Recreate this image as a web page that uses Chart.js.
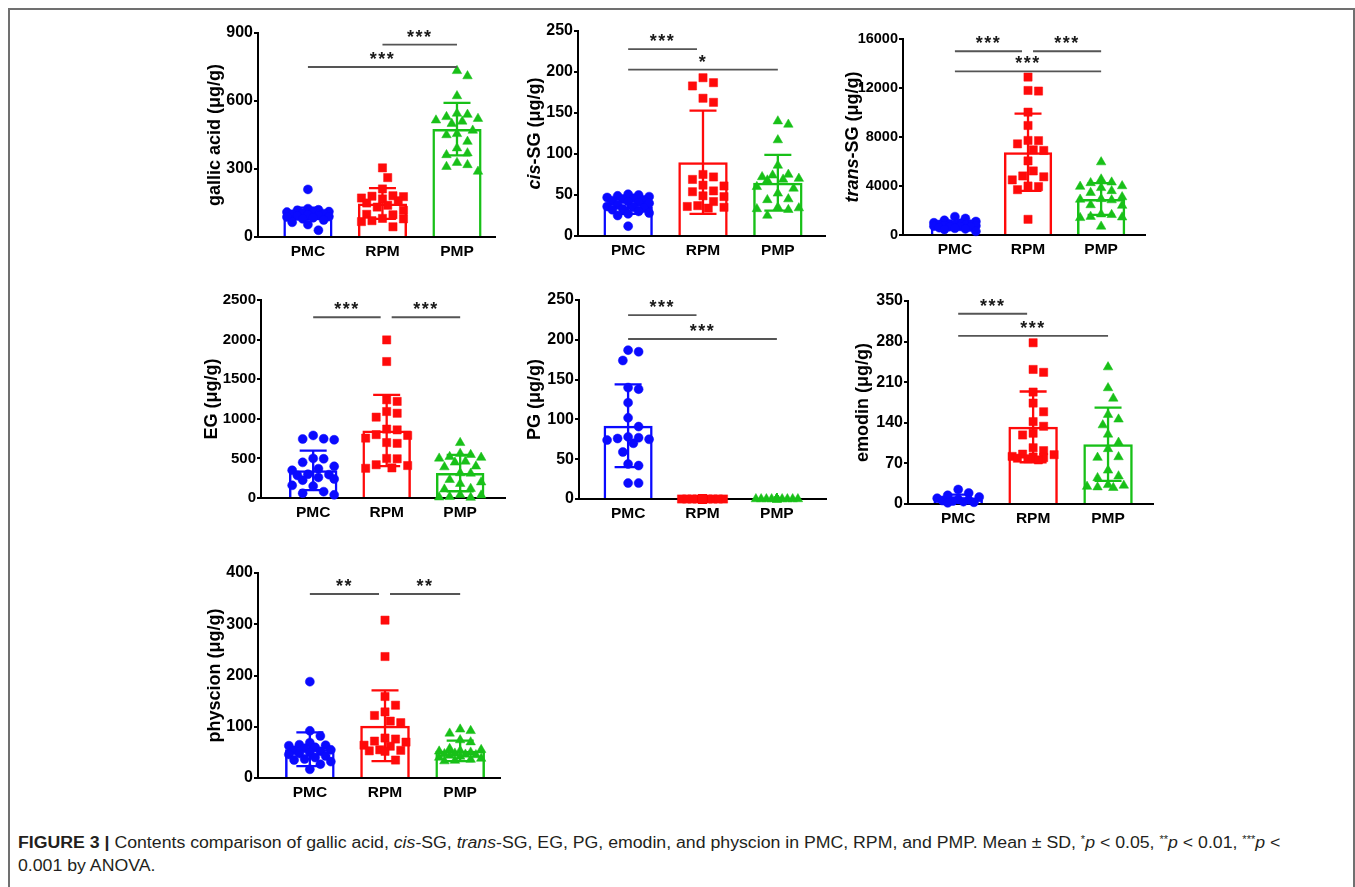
<!DOCTYPE html>
<html>
<head>
<meta charset="utf-8">
<script src="https://cdn.jsdelivr.net/npm/chart.js@4.4.1/dist/chart.umd.min.js"></script>
<style>
  body { margin: 0; background: #fff; width: 1355px; height: 887px; overflow: hidden; position: relative; font-family: 'Liberation Sans', Arial, sans-serif; }
  #frame { position: absolute; left: 8px; top: 8px; width: 1347px; height: 900px; box-sizing: border-box;
           border-left: 2px solid #707070; border-top: 2px solid #707070; border-right: 2px solid #707070; }
  .cap { position: absolute; left: 18px; white-space: nowrap; font-size: 16px; line-height: 18px; color: #231f20; transform-origin: 0 0; }
  .cap sup { font-size: 10px; vertical-align: 0; position: relative; top: -5px; }
</style>
</head>
<body>
<div id="frame"></div>
<div class="cap" id="cap1" style="top:834px"><b>FIGURE 3 |</b> Contents comparison of gallic acid, <i>cis</i>-SG, <i>trans</i>-SG, EG, PG, emodin, and physcion in PMC, RPM, and PMP. Mean ± SD, <sup>*</sup><i>p</i> &lt; 0.05, <sup>**</sup><i>p</i> &lt; 0.01, <sup>***</sup><i>p</i> &lt;</div>
<div class="cap" id="cap2" style="top:857px">0.001 by ANOVA.</div>
<script>
const categories = ['PMC', 'RPM', 'PMP'];
const groupColors = ['#0a0aff', '#ff0a0a', '#18c018'];
const groupMarkers = ['circle', 'rect', 'triangle'];
const markerRadius = [4.5, 5.8, 5.5];

// gallic acid
const gallicPMC = [210, 125, 120, 118, 112, 110, 108, 105, 103, 100, 98, 95, 93, 90, 88, 85, 80, 75, 65, 55, 30];
const gallicRPM = [305, 262, 212, 182, 180, 178, 172, 168, 160, 150, 140, 132, 118, 100, 98, 82, 80, 72, 68, 45];
const gallicPMP = [733, 710, 622, 545, 540, 530, 522, 515, 510, 500, 470, 455, 450, 421, 392, 370, 362, 328, 318, 310, 289];
const gallicMean = [105, 148, 476];
const gallicSD = [25, 68, 116];
const gallicTicks = [0, 300, 600, 900];
const gallicSig = [[1, 3, '***', 750], [2, 3, '***', 849]];

// cis-SG
const cisPMC = [51, 50, 49, 48, 47, 46, 45, 44, 43, 42, 41, 40, 38, 36, 35, 34, 33, 32, 30, 28, 27, 25, 12];
const cisRPM = [193, 187, 183, 168, 163, 75, 72, 69, 62, 61, 55, 54, 49, 48, 42, 37, 36, 35, 34];
const cisPMP = [140, 136, 117, 86, 75, 74, 72, 70, 69, 68, 60, 58, 52, 45, 44, 35, 34, 33, 32, 25];
const cisMean = [36, 90, 65];
const cisSD = [9, 63, 34];
const cisTicks = [0, 50, 100, 150, 200, 250];
const cisSig = [[1, 2, '***', 228], [1, 3, '*', 203]];

// trans-SG
const transPMC = [1500, 1350, 1200, 1100, 1000, 950, 900, 880, 850, 820, 800, 780, 750, 720, 700, 680, 650, 600, 550, 500, 450, 300];
const transRPM = [12890, 11800, 11750, 10030, 8940, 7720, 7700, 7440, 6950, 6900, 6050, 5230, 4820, 4750, 4500, 4000, 3950, 3700, 1280];
const transPMP = [5950, 4550, 4300, 4250, 4000, 3950, 3850, 3600, 3450, 3100, 2950, 2900, 2850, 2450, 2400, 1700, 1650, 1500, 1450, 1400, 700];
const transMean = [800, 6760, 2940];
const transSD = [280, 3150, 1300];
const transTicks = [0, 4000, 8000, 12000, 16000];
const transSig = [[1, 2, '***', 15000], [2, 3, '***', 15000], [1, 3, '***', 13350]];

// EG
const egPMC = [790, 748, 745, 735, 500, 495, 450, 400, 370, 350, 300, 295, 285, 260, 240, 225, 160, 150, 80, 60, 40];
const egRPM = [1996, 1723, 1240, 1220, 1092, 1070, 1021, 870, 860, 800, 790, 756, 700, 690, 500, 495, 420, 410, 380, 375];
const egPMP = [697, 560, 546, 520, 510, 500, 462, 450, 400, 390, 315, 310, 231, 200, 180, 118, 110, 40, 34, 15, 10, 5];
const egMean = [349, 853, 315];
const egSD = [250, 450, 230];
const egTicks = [0, 500, 1000, 1500, 2000, 2500];
const egSig = [[1, 2, '***', 2282], [2, 3, '***', 2282]];

// PG
const pgPMC = [187, 185, 174, 140, 138, 121, 102, 91, 78, 77, 76, 75, 74, 70, 59, 44, 42, 20, 20];
const pgRPM = [0, 0, 0, 0, 0, 0, 0, 0, 0, 0, 0, 0, 0, 0, 0, 0, 0, 0, 0, 0];
const pgPMP = [0, 0, 0, 0, 0, 0, 0, 0, 0, 0, 0, 0, 0, 0, 0, 0, 0, 0, 0, 0];
const pgMean = [92, 0, 0];
const pgSD = [52, 0, 0];
const pgTicks = [0, 50, 100, 150, 200, 250];
const pgSig = [[1, 2, '***', 231], [1, 3, '***', 201]];

// emodin
const emodinPMC = [25, 19, 15, 12, 10, 8, 7, 6, 5, 4, 3, 2];
const emodinRPM = [278, 232, 227, 193, 174, 159, 142, 134, 122, 119, 97, 92, 86, 85, 82, 81, 80, 79, 78, 76];
const emodinPMP = [236, 200, 182, 154, 146, 136, 120, 106, 95, 81, 80, 58, 48, 45, 33, 32, 30, 29, 28];
const emodinMean = [7, 133, 103];
const emodinSD = [9, 61, 63];
const emodinTicks = [0, 70, 140, 210, 280, 350];
const emodinSig = [[1, 2, '***', 328], [1, 3, '***', 290]];

// physcion
const physcionPMC = [188, 92, 82, 69, 65, 64, 63, 60, 58, 55, 54, 52, 50, 48, 46, 43, 40, 37, 35, 32, 27, 17];
const physcionRPM = [308, 237, 159, 142, 129, 122, 111, 108, 78, 76, 72, 70, 64, 62, 55, 54, 53, 52, 35];
const physcionPMP = [95, 92, 87, 74, 70, 57, 55, 53, 52, 50, 48, 47, 46, 45, 44, 42, 40, 38, 36, 34, 33];
const physcionMean = [56, 102, 53];
const physcionSD = [33, 69, 20];
const physcionTicks = [0, 100, 200, 300, 400];
const physcionSig = [[1, 2, '**', 359], [2, 3, '**', 359]];

const FONT = "'Liberation Sans', Arial, sans-serif";

// panel placement on the page (axis corner, top of y range, right end of x axis)
const panels = [
    { title: [['gallic acid (μg/g)', false]], groups: [gallicPMC, gallicRPM, gallicPMP], mean: gallicMean, sd: gallicSD, ticks: gallicTicks, sig: gallicSig,
      box: { axisX: 258, topY: 33, zeroY: 237, xEnd: 495, titleOff: 43, xMin: 0.33, xMax: 3.51, tickSize: 16 } },
    { title: [['cis', true], ['-SG (μg/g)', false]], groups: [cisPMC, cisRPM, cisPMP], mean: cisMean, sd: cisSD, ticks: cisTicks, sig: cisSig,
      box: { axisX: 578, topY: 31, zeroY: 236, xEnd: 825, titleOff: 43, xMin: 0.33, xMax: 3.63, tickSize: 16 } },
    { title: [['trans', true], ['-SG (μg/g)', false]], groups: [transPMC, transRPM, transPMP], mean: transMean, sd: transSD, ticks: transTicks, sig: transSig,
      box: { axisX: 903, topY: 39, zeroY: 235, xEnd: 1145, titleOff: 50, xMin: 0.29, xMax: 3.6, tickSize: 14.5 } },
    { title: [['EG (μg/g)', false]], groups: [egPMC, egRPM, egPMP], mean: egMean, sd: egSD, ticks: egTicks, sig: egSig,
      box: { axisX: 261, topY: 300, zeroY: 498, xEnd: 505, titleOff: 49, xMin: 0.29, xMax: 3.61, tickSize: 15 } },
    { title: [['PG (μg/g)', false]], groups: [pgPMC, pgRPM, pgPMP], mean: pgMean, sd: pgSD, ticks: pgTicks, sig: pgSig,
      box: { axisX: 579, topY: 300, zeroY: 499, xEnd: 826, titleOff: 44, xMin: 0.34, xMax: 3.66, tickSize: 16 } },
    { title: [['emodin (μg/g)', false]], groups: [emodinPMC, emodinRPM, emodinPMP], mean: emodinMean, sd: emodinSD, ticks: emodinTicks, sig: emodinSig,
      box: { axisX: 908, topY: 301, zeroY: 504, xEnd: 1153, titleOff: 45, xMin: 0.33, xMax: 3.6, tickSize: 16 } },
    { title: [['physcion (μg/g)', false]], groups: [physcionPMC, physcionRPM, physcionPMP], mean: physcionMean, sd: physcionSD, ticks: physcionTicks, sig: physcionSig,
      box: { axisX: 258, topY: 573, zeroY: 778, xEnd: 500, titleOff: 43, xMin: 0.31, xMax: 3.53, tickSize: 16 } }
];

// spread points sideways so they don't sit on top of each other (pixel offsets)
function swarm(values, pxY, d, maxHalf) {
    const placed = [];
    const offs = new Array(values.length).fill(0);
    const order = values.map((v, i) => i).sort((a, b) => values[b] - values[a]);
    const step = d / 2;
    const kMax = 2 * Math.floor(maxHalf / step);
    order.forEach(i => {
        const y = values[i] * pxY;
        let chosen = null, fallback = 0, bestGap = -1;
        for (let k = 0; k <= kMax; k++) {
            const dx = (k % 2 ? 1 : -1) * Math.ceil(k / 2) * step;
            let gap = Infinity;
            placed.forEach(p => { gap = Math.min(gap, Math.hypot(p.x - dx, p.y - y)); });
            if (gap >= d) { chosen = dx; break; }
            if (gap > bestGap) { bestGap = gap; fallback = dx; }
        }
        if (chosen === null) chosen = fallback;
        offs[i] = chosen;
        placed.push({ x: chosen, y });
    });
    return offs;
}

function makePanel(p) {
    const b = p.box;
    const yW = 62, padTop = 14, xH = 34, padRight = 8;
    const w = yW + (b.xEnd - b.axisX) + padRight;
    const h = padTop + (b.zeroY - b.topY) + xH;
    const canvas = document.createElement('canvas');
    canvas.width = w;
    canvas.height = h;
    canvas.style.cssText = `position:absolute;left:${b.axisX - yW}px;top:${b.topY - padTop}px;width:${w}px;height:${h}px`;
    document.body.appendChild(canvas);

    const yMax = p.ticks[p.ticks.length - 1];
    const pxY = (b.zeroY - b.topY) / yMax;
    const pxX = (b.xEnd - b.axisX) / (b.xMax - b.xMin);

    const datasets = [{
        type: 'bar',
        data: p.mean.map((m, i) => ({ x: i + 1, y: m })),
        backgroundColor: 'rgba(0,0,0,0)',
        borderColor: groupColors,
        borderWidth: 2.5,
        barPercentage: 1,
        categoryPercentage: 0.66,
        order: 2
    }];
    p.groups.forEach((vals, gi) => {
        const offs = swarm(vals, pxY, 10.5, 24);
        datasets.push({
            type: 'scatter',
            data: vals.map((v, k) => ({ x: gi + 1 + offs[k] / pxX, y: v })),
            pointStyle: groupMarkers[gi],
            pointRadius: markerRadius[gi],
            backgroundColor: groupColors[gi],
            borderColor: groupColors[gi],
            borderWidth: 0.5,
            clip: false,
            order: 1
        });
    });

    const extras = {
        id: 'extras',
        afterDatasetDraw(chart, args) {
            if (args.meta.type !== 'bar') return;
            const ctx = chart.ctx, ys = chart.scales.y;
            ctx.save();
            args.meta.data.forEach((el, i) => {
                const m = p.mean[i], s = p.sd[i];
                if (!s) return;
                const yt = ys.getPixelForValue(m + s);
                const yb = ys.getPixelForValue(Math.max(0, m - s));
                ctx.strokeStyle = groupColors[i];
                ctx.lineWidth = 2.3;
                ctx.beginPath();
                ctx.moveTo(el.x, yt); ctx.lineTo(el.x, yb);
                ctx.moveTo(el.x - 13.5, yt); ctx.lineTo(el.x + 13.5, yt);
                if (m - s > 0) { ctx.moveTo(el.x - 13.5, yb); ctx.lineTo(el.x + 13.5, yb); }
                ctx.stroke();
            });
            ctx.restore();
        },
        afterDraw(chart) {
            const ctx = chart.ctx, xs = chart.scales.x, ys = chart.scales.y, area = chart.chartArea;
            ctx.save();
            // significance lines
            const endsAt2 = p.sig.some(s => s[1] === 2);
            p.sig.forEach(([a, c, label, yv]) => {
                let x1 = xs.getPixelForValue(a), x2 = xs.getPixelForValue(c);
                if (c === 2) x2 -= 6;
                if (a === 2 && endsAt2) x1 += 5;
                const y = ys.getPixelForValue(yv);
                ctx.strokeStyle = '#555';
                ctx.lineWidth = 1.8;
                ctx.beginPath(); ctx.moveTo(x1, y); ctx.lineTo(x2, y); ctx.stroke();
                ctx.fillStyle = '#1a1a1a';
                ctx.font = `bold 18px ${FONT}`;
                ctx.letterSpacing = '1.5px';
                ctx.textAlign = 'center';
                ctx.textBaseline = 'alphabetic';
                ctx.fillText(label, (x1 + x2) / 2, y - 2);
            });
            ctx.letterSpacing = '0px';
            // y title with italic parts
            ctx.translate(area.left - b.titleOff, (area.top + area.bottom) / 2);
            ctx.rotate(-Math.PI / 2);
            ctx.fillStyle = '#000';
            ctx.textBaseline = 'middle';
            ctx.textAlign = 'left';
            const fonts = p.title.map(([t, it]) => `${it ? 'italic ' : ''}bold 18px ${FONT}`);
            let total = 0;
            const widths = p.title.map(([t], i) => { ctx.font = fonts[i]; const tw = ctx.measureText(t).width; total += tw; return tw; });
            let x = -total / 2;
            p.title.forEach(([t], i) => { ctx.font = fonts[i]; ctx.fillText(t, x, 0); x += widths[i]; });
            ctx.restore();
        }
    };

    new Chart(canvas.getContext('2d'), {
        type: 'bar',
        data: { datasets },
        options: {
            responsive: false,
            animation: false,
            layout: { padding: { top: padTop, right: padRight, left: 0, bottom: 0 } },
            plugins: { legend: { display: false }, tooltip: { enabled: false } },
            scales: {
                x: {
                    type: 'linear', min: b.xMin, max: b.xMax, offset: false,
                    afterBuildTicks: s => { s.ticks = categories.map((c, i) => ({ value: i + 1 })); },
                    afterFit: s => { s.height = xH; },
                    grid: { display: false, offset: false, drawTicks: false, tickLength: 0 },
                    border: { display: true, color: '#000', width: 2 },
                    ticks: { color: '#000', font: { family: FONT, size: 15.5, weight: 'bold' }, padding: 5,
                             autoSkip: false, maxRotation: 0, callback: v => categories[v - 1] ?? '' }
                },
                y: {
                    type: 'linear', min: 0, max: yMax,
                    afterBuildTicks: s => { s.ticks = p.ticks.map(v => ({ value: v })); },
                    afterFit: s => { s.width = yW; },
                    grid: { display: true, drawOnChartArea: false, drawTicks: true, tickLength: 4, lineWidth: 2, color: '#000' },
                    border: { color: '#000', width: 2 },
                    ticks: { color: '#000', font: { family: FONT, size: b.tickSize, weight: 'bold' }, padding: 1, callback: v => String(v) }
                }
            }
        },
        plugins: [extras]
    });
}

panels.forEach(makePanel);

// fit the caption lines to the width used in the figure
(() => {
    const c1 = document.getElementById('cap1'), c2 = document.getElementById('cap2');
    const k = 1262 / c1.offsetWidth;
    [c1, c2].forEach(el => { el.style.transform = `scaleX(${k})`; });
})();
</script>
</body>
</html>
